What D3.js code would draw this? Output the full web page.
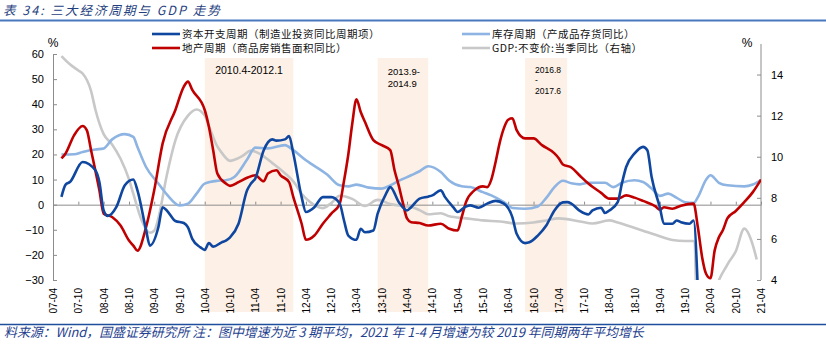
<!DOCTYPE html>
<html>
<head>
<meta charset="utf-8">
<script src="https://cdn.jsdelivr.net/npm/d3@7"></script>
<style>
  body { margin: 0; background: #fff; }
  svg { display: block; }
  .num { font-family: "Liberation Sans", Arial, sans-serif; fill: #000; }
  .cjk { font-family: "Noto Sans CJK SC", sans-serif; }
</style>
</head>
<body>
<svg id="chart" width="826" height="348"></svg>
<script>
// ---- data ----
const capex = [
  ["2007-06", 3.1], ["2007-07", 8], ["2007-08", 9], ["2007-11", 17], ["2008-02", 13.7],
  ["2008-03", 9], ["2008-04", -2.3], ["2008-05", -4.5], ["2008-07", -1], ["2008-09", 7.7],
  ["2008-11", 10], ["2008-12", 5.7], ["2009-02", -10], ["2009-03", -16.3], ["2009-05", -9],
  ["2009-06", -1], ["2009-07", -2.3], ["2009-09", -6.5], ["2009-11", -7.3], ["2009-12", -9],
  ["2010-01", -13.6], ["2010-03", -17], ["2010-04", -18], ["2010-05", -15.3], ["2010-06", -16.7],
  ["2010-08", -15], ["2010-09", -14.3], ["2010-10", -13], ["2010-12", -7.6], ["2011-02", 5.7],
  ["2011-03", 8.4], ["2011-04", 10.4], ["2011-06", 21.7], ["2011-08", 26], ["2011-09", 25.5],
  ["2011-11", 26], ["2011-12", 27.3], ["2012-01", 20.4], ["2012-03", 3], ["2012-04", -2.9],
  ["2012-06", -1], ["2012-08", 3], ["2012-10", 3], ["2012-12", 0.4], ["2013-01", -6.3],
  ["2013-02", -12.3], ["2013-04", -14], ["2013-05", -9.6], ["2013-06", -11], ["2013-08", -10.3],
  ["2013-09", -3.6], ["2013-11", 4.4], ["2013-12", 7], ["2014-02", 1], ["2014-04", -2.3],
  ["2014-05", -1], ["2014-07", 2.4], ["2014-09", 3.2], ["2014-10", 3.7], ["2014-12", 5.7],
  ["2015-01", 3], ["2015-03", -1], ["2015-04", -2.9], ["2015-06", -0.7], ["2015-07", -0.3],
  ["2015-09", -1.2], ["2015-11", 0.4], ["2016-01", 1.5], ["2016-03", 0.4], ["2016-05", -5],
  ["2016-06", -11.6], ["2016-08", -15.3], ["2016-09", -15], ["2016-11", -12.3], ["2017-01", -8.3],
  ["2017-03", -2.3], ["2017-05", 0.9], ["2017-06", 1], ["2017-07", 0.4], ["2017-09", -2.5],
  ["2017-11", -3.9], ["2017-12", -2.3], ["2018-02", -1.2], ["2018-03", -3.3], ["2018-04", -2.3],
  ["2018-06", 1], ["2018-07", 8.4], ["2018-08", 15], ["2018-10", 20.4], ["2018-12", 23],
  ["2019-01", 21.7], ["2019-02", 11], ["2019-04", -1], ["2019-05", -7.6], ["2019-07", -7.6],
  ["2019-08", -6.3], ["2019-09", -7], ["2019-11", -7.6], ["2019-12", -6.3], ["2020-01", -34]
];

const property = [
  ["2007-06", 18.4], ["2007-07", 20.4], ["2007-09", 27.7], ["2007-11", 31.3], ["2007-12", 29.7],
  ["2008-01", 21.7], ["2008-03", 5.7], ["2008-04", -3.6], ["2008-06", -4.9], ["2008-08", -8.3],
  ["2008-10", -14.3], ["2008-11", -16.3], ["2008-12", -18.3], ["2009-02", -9], ["2009-04", 5.7],
  ["2009-06", 24.4], ["2009-09", 37.7], ["2009-11", 47], ["2009-12", 49], ["2010-01", 45.7],
  ["2010-04", 37.7], ["2010-05", 31], ["2010-06", 21.7], ["2010-07", 12.4], ["2010-09", 8.4],
  ["2010-10", 7.5], ["2010-12", 9], ["2011-02", 10.7], ["2011-04", 11.7], ["2011-06", 9.3],
  ["2011-07", 12.4], ["2011-09", 13.7], ["2011-10", 11.7], ["2011-12", 9], ["2012-01", 3],
  ["2012-03", -7.6], ["2012-04", -14], ["2012-06", -12.3], ["2012-08", -7.6], ["2012-10", -3.6],
  ["2012-12", 0.4], ["2013-01", 9.5], ["2013-02", 20], ["2013-03", 32], ["2013-04", 42],
  ["2013-05", 37], ["2013-06", 33], ["2013-08", 25.7], ["2013-10", 23.7], ["2013-12", 21.7],
  ["2014-01", 13.7], ["2014-02", 7.5], ["2014-03", 1], ["2014-04", -5.5], ["2014-05", -7],
  ["2014-07", -7.3], ["2014-09", -8.3], ["2014-12", -7.6], ["2015-02", -9.6], ["2015-04", -10.3],
  ["2015-05", -5], ["2015-06", 1], ["2015-08", 5.7], ["2015-10", 7.3], ["2015-11", 7],
  ["2015-12", 10], ["2016-01", 17], ["2016-02", 25], ["2016-03", 30.5], ["2016-04", 33.8],
  ["2016-05", 34.4], ["2016-06", 29.7], ["2016-08", 26.4], ["2016-10", 26.4], ["2016-12", 23.7],
  ["2017-03", 20.4], ["2017-04", 18.5], ["2017-05", 16], ["2017-07", 14.8], ["2017-09", 11.5],
  ["2017-11", 8.4], ["2018-02", 4.7], ["2018-04", 2.4], ["2018-06", 2.4], ["2018-08", 3.7],
  ["2018-10", 2.8], ["2018-12", 1.5], ["2019-03", -0.7], ["2019-04", -2], ["2019-05", -1],
  ["2019-07", -1.6], ["2019-09", -0.4], ["2019-12", 0.4], ["2020-01", -9], ["2020-02", -21],
  ["2020-03", -27.6], ["2020-04", -29.3], ["2020-05", -18.3], ["2020-06", -13], ["2020-07", -10],
  ["2020-08", -5.5], ["2020-10", -2.5], ["2020-12", 1], ["2021-02", 5], ["2021-04", 10]
];

const inventory = [
  ["2007-06", 20], ["2007-09", 20.1], ["2007-11", 21], ["2008-02", 22], ["2008-04", 22.4],
  ["2008-06", 26], ["2008-09", 28.1], ["2008-11", 27], ["2008-12", 23], ["2009-02", 15],
  ["2009-05", 8.4], ["2009-07", 4.1], ["2009-10", -0.3], ["2009-12", 0.4], ["2010-02", 4.4],
  ["2010-04", 8.4], ["2010-07", 9.5], ["2010-09", 9.7], ["2010-11", 11], ["2011-02", 18],
  ["2011-04", 22.7], ["2011-07", 22.4], ["2011-11", 23.7], ["2012-01", 21.7], ["2012-04", 17.7],
  ["2012-09", 12], ["2012-12", 7.7], ["2013-02", 7.3], ["2013-04", 8], ["2013-07", 6.8],
  ["2013-10", 6.4], ["2013-12", 7.7], ["2014-02", 9.5], ["2014-05", 11.7], ["2014-07", 13.3],
  ["2014-09", 15.3], ["2014-12", 13], ["2015-02", 9.5], ["2015-05", 7.3], ["2015-07", 7],
  ["2015-10", 5], ["2015-12", 3.7], ["2016-03", 1], ["2016-05", -1.3], ["2016-08", -1.6],
  ["2016-11", -0.7], ["2017-01", 2.7], ["2017-03", 7], ["2017-05", 9.5], ["2017-07", 8.5],
  ["2017-09", 8.1], ["2017-11", 8.7], ["2018-03", 8.7], ["2018-05", 7], ["2018-07", 8.7],
  ["2018-10", 9.7], ["2018-12", 9], ["2019-02", 6.4], ["2019-04", 3.5], ["2019-06", 4.4],
  ["2019-08", 2.7], ["2019-10", 1], ["2019-12", 0.7], ["2020-01", 3], ["2020-03", 10],
  ["2020-04", 11.7], ["2020-06", 8.7], ["2020-08", 7.7], ["2020-12", 7.3], ["2021-02", 8],
  ["2021-04", 9.8]
];

// GDP, right axis
const gdp = [
  ["2007-06", 14.9], ["2007-08", 14.5], ["2007-10", 14.2], ["2007-11", 14.05], ["2008-01", 13.2],
  ["2008-02", 12.3], ["2008-04", 11.1], ["2008-06", 10.6], ["2008-08", 9.9], ["2008-10", 8.9],
  ["2008-11", 8.2], ["2009-01", 6.9], ["2009-03", 6.3], ["2009-04", 6.4], ["2009-05", 7.0],
  ["2009-07", 9.1], ["2009-09", 10.8], ["2009-12", 12.0], ["2010-02", 12.3], ["2010-04", 12.0],
  ["2010-05", 11.5], ["2010-07", 10.5], ["2010-08", 10.2], ["2010-10", 9.8], ["2010-11", 9.85],
  ["2011-01", 10.05], ["2011-03", 10.3], ["2011-05", 10.15], ["2011-08", 9.7], ["2011-11", 9.2],
  ["2012-01", 8.8], ["2012-03", 8.2], ["2012-05", 7.8], ["2012-08", 7.5], ["2012-10", 7.75],
  ["2012-12", 8.1], ["2013-03", 7.95], ["2013-06", 7.6], ["2013-09", 7.9], ["2013-12", 7.7],
  ["2014-03", 7.6], ["2014-05", 7.55], ["2014-07", 7.4], ["2014-09", 7.2], ["2014-12", 7.25],
  ["2015-02", 7.1], ["2015-06", 7.0], ["2015-10", 6.9], ["2016-02", 6.85], ["2016-06", 6.75],
  ["2016-10", 6.8], ["2017-01", 6.9], ["2017-04", 7.0], ["2017-09", 6.85], ["2017-12", 6.75],
  ["2018-04", 6.9], ["2018-06", 6.8], ["2018-09", 6.6], ["2018-12", 6.4], ["2019-03", 6.2],
  ["2019-07", 5.95], ["2019-10", 5.9], ["2019-12", 5.9], ["2020-02", -6.8], ["2020-05", 3.2],
  ["2020-08", 4.75], ["2020-10", 5.4], ["2020-12", 6.5], ["2021-02", 5.7], ["2021-03", 5.0]
];

const xTickLabels = [
  "07-04", "07-10", "08-04", "08-10", "09-04", "09-10", "10-04", "10-10", "11-04", "11-10",
  "12-04", "12-10", "13-04", "13-10", "14-04", "14-10", "15-04", "15-10", "16-04", "16-10",
  "17-04", "17-10", "18-04", "18-10", "19-04", "19-10", "20-04", "20-10", "21-04"
];
const leftTicks = [-30, -20, -10, 0, 10, 20, 30, 40, 50, 60];
const rightTicks = [4, 6, 8, 10, 12, 14];

const periods = [
  { from: "2010-04", to: "2012-01", label: ["2010.4-2012.1"] },
  { from: "2013-09", to: "2014-09", label: ["2013.9-", "2014.9"] },
  { from: "2016-08", to: "2017-06", label: ["2016.8", "-", "2017.6"] }
];

const series = [
  { name: "GDP:不变价:当季同比（右轴）", data: gdp, color: "#c8c8c8", axis: "right" },
  { name: "库存周期（产成品存货同比）", data: inventory, color: "#8db4e2", axis: "left" },
  { name: "地产周期（商品房销售面积同比）", data: property, color: "#c00000", axis: "left" },
  { name: "资本开支周期（制造业投资同比周期项）", data: capex, color: "#0f47a0", axis: "left" }
];

// ---- layout ----
const svg = d3.select("#chart");
const plot = { left: 53, right: 761, top: 54, bottom: 280 };
const parseYM = d3.timeParse("%Y-%m");
const parseTick = d3.timeParse("%y-%m");

const x = d3.scaleTime()
  .domain([parseYM("2007-04"), parseYM("2021-04")])
  .range([plot.left, plot.right]);
const yL = d3.scaleLinear().domain([-30, 60]).range([plot.bottom, plot.top]);
const yR = d3.scaleLinear().domain([4, 15]).range([plot.bottom, plot.top]);

// heading, rules and source note
svg.append("text").attr("class", "cjk")
  .attr("x", 3).attr("y", 15)
  .attr("font-size", 12.5).attr("letter-spacing", 2)
  .attr("font-style", "italic").attr("fill", "#1f3f7f")
  .text("表 34: 三大经济周期与 GDP 走势");
svg.append("line").attr("x1", 0).attr("x2", 826).attr("y1", 20.5).attr("y2", 20.5)
  .attr("stroke", "#4a78bf").attr("stroke-width", 2);
svg.append("line").attr("x1", 0).attr("x2", 826).attr("y1", 324.5).attr("y2", 324.5)
  .attr("stroke", "#1f4e9c").attr("stroke-width", 1.5);
svg.append("text").attr("class", "cjk")
  .attr("x", 4).attr("y", 337)
  .attr("font-size", 12.9).attr("font-style", "italic").attr("fill", "#1f3f8f")
  .text("料来源：Wind，国盛证券研究所 注：图中增速为近 3 期平均，2021 年 1-4 月增速为较 2019 年同期两年平均增长");

// shaded periods
const shade = svg.append("g");
periods.forEach(p => {
  const x0 = x(parseYM(p.from)), x1 = x(parseYM(p.to));
  shade.append("rect")
    .attr("x", x0).attr("y", 58).attr("width", x1 - x0).attr("height", 254)
    .attr("fill", "#fdf0e6");
});
const lab = svg.append("g").attr("class", "num").attr("fill", "#222");
lab.append("text").attr("x", (x(parseYM(periods[0].from)) + x(parseYM(periods[0].to))) / 2)
  .attr("y", 74).attr("text-anchor", "middle").attr("font-size", 10.5)
  .text(periods[0].label[0]);
periods[1].label.forEach((t, i) => {
  lab.append("text").attr("x", x(parseYM(periods[1].from)) + 10).attr("y", 75 + i * 12)
    .attr("font-size", 9.5).text(t);
});
periods[2].label.forEach((t, i) => {
  lab.append("text").attr("x", x(parseYM(periods[2].from)) + 10).attr("y", 73 + i * 10.3)
    .attr("font-size", 8.5).text(t);
});

// axes
const axisColor = "#8c8c8c";
const gL = svg.append("g").attr("transform", `translate(${plot.left},0)`)
  .call(d3.axisLeft(yL).tickValues(leftTicks).tickSize(-4).tickSizeOuter(0).tickPadding(9));
const gR = svg.append("g").attr("transform", `translate(${plot.right},0)`)
  .call(d3.axisRight(yR).tickValues(rightTicks).tickSize(-4).tickSizeOuter(0).tickPadding(10));
const gZ = svg.append("g").attr("transform", `translate(0,${yL(0)})`)
  .call(d3.axisBottom(x).tickValues(xTickLabels.map(parseTick)).tickSize(-3)
    .tickSizeOuter(0).tickFormat(""));
[gL, gR, gZ].forEach(g => {
  g.select(".domain").attr("stroke", axisColor);
  g.selectAll(".tick line").attr("stroke", axisColor);
  g.selectAll("text").attr("font-family", "Liberation Sans, Arial, sans-serif")
    .attr("font-size", 11).attr("fill", "#000");
});
gR.select(".domain").attr("d", `M0,${plot.top - 10}V${plot.bottom}`);

const gX = svg.append("g").attr("transform", `translate(0,286)`)
  .call(d3.axisBottom(x).tickValues(xTickLabels.map(parseTick)).tickSize(0)
    .tickFormat((d, i) => xTickLabels[i]));
gX.select(".domain").remove();
gX.selectAll("text")
  .attr("transform", "rotate(-90)")
  .attr("x", -2).attr("y", 0).attr("dy", "0.35em")
  .attr("text-anchor", "end")
  .attr("font-family", "Liberation Sans, Arial, sans-serif")
  .attr("font-size", 10).attr("fill", "#000");

svg.append("text").attr("class", "num").attr("x", 53).attr("y", 47)
  .attr("text-anchor", "middle").attr("font-size", 12).text("%");
svg.append("text").attr("class", "num").attr("x", 747).attr("y", 47)
  .attr("text-anchor", "middle").attr("font-size", 12).text("%");

// lines
svg.append("clipPath").attr("id", "plotClip")
  .append("rect").attr("x", plot.left).attr("y", plot.top - 6)
  .attr("width", plot.right - plot.left).attr("height", plot.bottom - plot.top + 6);

const lines = svg.append("g").attr("clip-path", "url(#plotClip)");
series.forEach(s => {
  const yS = s.axis === "right" ? yR : yL;
  const line = d3.line()
    .x(d => x(parseYM(d[0])))
    .y(d => yS(d[1]))
    .curve(d3.curveMonotoneX);
  lines.append("path")
    .datum(s.data)
    .attr("fill", "none")
    .attr("stroke", s.color)
    .attr("stroke-width", 2.6)
    .attr("stroke-linejoin", "round")
    .attr("d", line);
});

// legend
const legendItems = [
  { s: series[3], x: 152, y: 34 },
  { s: series[2], x: 152, y: 48 },
  { s: series[1], x: 462, y: 34 },
  { s: series[0], x: 462, y: 48 }
];
const leg = svg.append("g");
legendItems.forEach(it => {
  leg.append("line").attr("x1", it.x).attr("x2", it.x + 28)
    .attr("y1", it.y).attr("y2", it.y)
    .attr("stroke", it.s.color).attr("stroke-width", 2.6);
  leg.append("text").attr("class", "cjk")
    .attr("x", it.x + 30).attr("y", it.y).attr("dy", "0.36em")
    .attr("font-size", 10.5).attr("letter-spacing", 0.5).attr("fill", "#111")
    .text(it.s.name);
});
</script>
</body>
</html>
